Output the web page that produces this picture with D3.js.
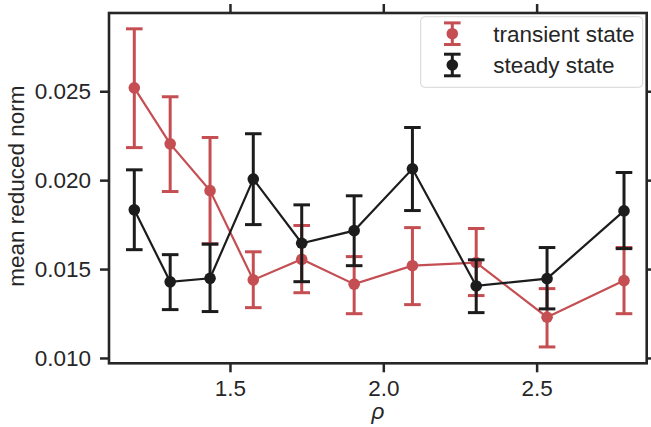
<!DOCTYPE html>
<html>
<head>
<meta charset="utf-8">
<script src="https://cdn.jsdelivr.net/npm/d3@7"></script>
<style>
  body { margin: 0; background: #fff; }
  svg text { font-family: "Liberation Sans", Arial, sans-serif; fill: #262626; }
</style>
</head>
<body>
<div id="chart"></div>
<script>
// rho values (x)
var rho = [1.188, 1.305, 1.435, 1.576, 1.734, 1.905, 2.095, 2.303, 2.534, 2.785];

// transient state: mean, lower, upper
var transMean = [0.02519, 0.02204, 0.01941, 0.01439, 0.01555, 0.01415, 0.01519, 0.01536, 0.01229, 0.01435];
var transLow  = [0.02183, 0.01936, 0.01642, 0.01283, 0.01367, 0.01249, 0.01300, 0.01351, 0.01062, 0.01249];
var transHigh = [0.02851, 0.02469, 0.02240, 0.01597, 0.01745, 0.01570, 0.01733, 0.01728, 0.01390, 0.01621];

// steady state: mean, lower, upper
var steadyMean = [0.01833, 0.01428, 0.01448, 0.02006, 0.01645, 0.01716, 0.02064, 0.01405, 0.01446, 0.01827];
var steadyLow  = [0.01609, 0.01272, 0.01261, 0.01750, 0.01429, 0.01519, 0.01829, 0.01255, 0.01276, 0.01615];
var steadyHigh = [0.02058, 0.01581, 0.01640, 0.02261, 0.01861, 0.01912, 0.02296, 0.01552, 0.01621, 0.02043];

var xTicks = [1.5, 2.0, 2.5];
var yTicks = [0.010, 0.015, 0.020, 0.025];

var seriesNames = ["transient state", "steady state"];
var seriesColors = ["#c44e52", "#1c1c1c"];

var W = 651, H = 427;
var margin = { top: 13, right: 4.3, bottom: 63.7, left: 109 };
var width = W - margin.left - margin.right,
    height = H - margin.top - margin.bottom;

var svg = d3.select("#chart").append("svg")
  .attr("width", W).attr("height", H);
var g = svg.append("g")
  .attr("transform", "translate(" + margin.left + "," + margin.top + ")");

var x = d3.scaleLinear().domain([1.1055, 2.859]).range([0, width]);
var y = d3.scaleLinear().domain([0.0097, 0.0294]).range([height, 0]);

var axisColor = "#262626";
var fontSize = 22.5;

// axes (ticks on all four sides)
function styleAxis(sel) {
  sel.select(".domain").remove();
  sel.selectAll(".tick line").attr("stroke", axisColor).attr("stroke-width", 2.5);
  sel.selectAll(".tick text").style("font-size", fontSize + "px").attr("fill", axisColor);
}

g.append("g").attr("transform", "translate(0," + height + ")")
  .call(d3.axisBottom(x).tickValues(xTicks).tickFormat(d3.format(".1f")).tickSize(9).tickPadding(7.5))
  .call(styleAxis);
g.append("g")
  .call(d3.axisTop(x).tickValues(xTicks).tickFormat("").tickSize(9))
  .call(styleAxis);
g.append("g")
  .call(d3.axisLeft(y).tickValues(yTicks).tickFormat(d3.format(".3f")).tickSize(9).tickPadding(9))
  .call(styleAxis);
g.append("g").attr("transform", "translate(" + width + ",0)")
  .call(d3.axisRight(y).tickValues(yTicks).tickFormat("").tickSize(9))
  .call(styleAxis);

// axis labels
g.append("text")
  .attr("x", width / 2 + 0)
  .attr("y", height + 56)
  .attr("text-anchor", "middle")
  .style("font-size", fontSize + "px")
  .style("font-style", "italic")
  .text("ρ");

g.append("text")
  .attr("transform", "rotate(-90)")
  .attr("x", -height / 2 + 2)
  .attr("y", -margin.left + 23.5)
  .attr("text-anchor", "middle")
  .style("font-size", fontSize + "px")
  .text("mean reduced norm");

// draw one series
function drawSeries(mean, low, high, color) {
  var data = rho.map(function (r, i) {
    return { x: r, m: mean[i], lo: low[i], hi: high[i] };
  });
  var s = g.append("g");
  s.append("path")
    .datum(data)
    .attr("fill", "none")
    .attr("stroke", color)
    .attr("stroke-width", 2.2)
    .attr("d", d3.line().x(function (d) { return x(d.x); }).y(function (d) { return y(d.m); }));
  var eb = s.selectAll(".eb").data(data).enter().append("g");
  eb.append("line")
    .attr("x1", function (d) { return x(d.x); })
    .attr("x2", function (d) { return x(d.x); })
    .attr("y1", function (d) { return y(d.lo); })
    .attr("y2", function (d) { return y(d.hi); })
    .attr("stroke", color).attr("stroke-width", 3);
  [ "lo", "hi" ].forEach(function (k) {
    eb.append("line")
      .attr("x1", function (d) { return x(d.x) - 8.3; })
      .attr("x2", function (d) { return x(d.x) + 8.3; })
      .attr("y1", function (d) { return y(d[k]); })
      .attr("y2", function (d) { return y(d[k]); })
      .attr("stroke", color).attr("stroke-width", 3);
  });
  eb.append("circle")
    .attr("cx", function (d) { return x(d.x); })
    .attr("cy", function (d) { return y(d.m); })
    .attr("r", 5.8)
    .attr("fill", color);
}

drawSeries(transMean, transLow, transHigh, seriesColors[0]);
drawSeries(steadyMean, steadyLow, steadyHigh, seriesColors[1]);

// frame
g.append("rect")
  .attr("width", width).attr("height", height)
  .attr("fill", "none")
  .attr("stroke", axisColor)
  .attr("stroke-width", 2.6);

// legend
var lg = svg.append("g").attr("transform", "translate(420.7,16.7)");
lg.append("rect")
  .attr("width", 222).attr("height", 70.6)
  .attr("rx", 4)
  .attr("fill", "#fff").attr("fill-opacity", 0.8)
  .attr("stroke", "#d6d6d6").attr("stroke-width", 1);
seriesNames.forEach(function (name, i) {
  var cy = 17 + i * 31.3, cx = 31.6, c = seriesColors[i];
  var item = lg.append("g");
  item.append("line").attr("x1", cx).attr("x2", cx).attr("y1", cy - 10.8).attr("y2", cy + 10.8)
    .attr("stroke", c).attr("stroke-width", 3);
  [-10.8, 10.8].forEach(function (dy) {
    item.append("line").attr("x1", cx - 8.3).attr("x2", cx + 8.3).attr("y1", cy + dy).attr("y2", cy + dy)
      .attr("stroke", c).attr("stroke-width", 3);
  });
  item.append("circle").attr("cx", cx).attr("cy", cy).attr("r", 5.8).attr("fill", c);
  item.append("text")
    .attr("x", 72.6).attr("y", cy)
    .attr("dy", "0.35em")
    .style("font-size", fontSize + "px")
    .text(name);
});
</script>
</body>
</html>
